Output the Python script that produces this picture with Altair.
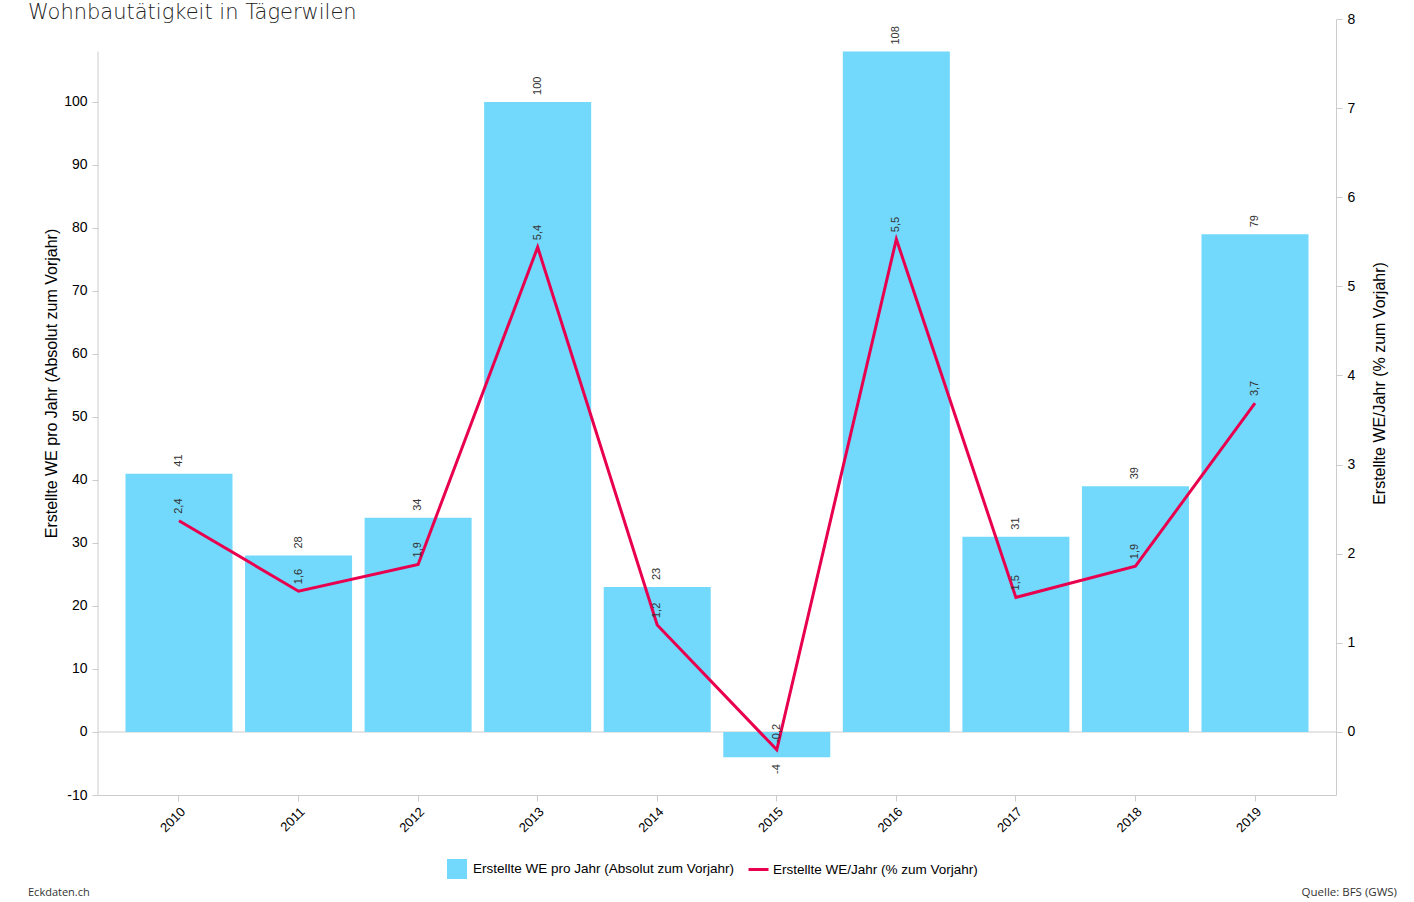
import altair as alt
import pandas as pd

years = ["2010", "2011", "2012", "2013", "2014", "2015", "2016", "2017", "2018", "2019"]
absolute = [41, 28, 34, 100, 23, -4, 108, 31, 39, 79]
percent = [2.37, 1.58, 1.88, 5.44, 1.2, -0.2, 5.53, 1.51, 1.86, 3.69]

BAR = "Erstellte WE pro Jahr (Absolut zum Vorjahr)"
LINE = "Erstellte WE/Jahr (% zum Vorjahr)"
TITLE = "Wohnbautätigkeit in Tägerwilen"
LEFT_TITLE = "Erstellte WE pro Jahr (Absolut zum Vorjahr)"
RIGHT_TITLE = "Erstellte WE/Jahr (% zum Vorjahr)"
FOOT_LEFT = "Eckdaten.ch"
FOOT_RIGHT = "Quelle: BFS (GWS)"

W, H = 1238, 776
BLUE = "#72d8fc"
RED = "#e8004f"
GRAY = "#cccccc"
AXFONT = "Liberation Sans"
TFONT = "Liberation Sans"
FIXMINUS = "replace(datum.label, '\u2212', '-')"

df = pd.DataFrame({"year": years, "abs": absolute, "pct": percent})
df["bar_series"] = BAR
df["line_series"] = LINE

base = alt.Chart(df)

x_enc = alt.X(
    "year:N",
    sort=years,
    scale=alt.Scale(paddingInner=0.105, paddingOuter=0.23),
    axis=alt.Axis(
        title=None, labelAngle=-45, labelFont=AXFONT, labelFontSize=13,
        labelColor="#000", domainColor=GRAY, tickColor=GRAY, tickSize=6,
        grid=False, labelPadding=4,
    ),
)

left_scale = alt.Scale(domain=[-10, 113.17], nice=False, zero=False)
left_axis = alt.Axis(
    title=LEFT_TITLE, values=list(range(-10, 101, 10)), domain=False, grid=False,
    tickSize=6, tickColor=GRAY, labelFont=AXFONT, labelFontSize=14, labelColor="#000",
    labelPadding=5, labelExpr=FIXMINUS, titleFont=TFONT, titleFontSize=16,
    titleFontWeight="normal", titleColor="#000", titlePadding=4, titleY=364,
)

right_scale = alt.Scale(domain=[-0.707, 8], nice=False, zero=False)
right_axis = alt.Axis(
    orient="right", title=RIGHT_TITLE, values=list(range(0, 9)), domain=True,
    domainColor=GRAY, grid=False, tickSize=6, tickColor=GRAY, labelFont=AXFONT,
    labelFontSize=14, labelColor="#000", labelPadding=5, titleFont=TFONT,
    titleFontSize=16, titleFontWeight="normal", titleColor="#000", titlePadding=17,
    titleY=364, titleAngle=270, titleBaseline="top",
)

one = pd.DataFrame({"a": [0]})

zero_rule = alt.Chart(one).mark_rule(color=GRAY, strokeWidth=1).encode(
    y=alt.Y(datum=0, scale=left_scale, axis=left_axis),
    x=alt.value(0), x2=alt.value(W),
)
left_domain = alt.Chart(one).mark_rule(color=GRAY, strokeWidth=1).encode(
    y=alt.Y(datum=-10, scale=left_scale, axis=left_axis),
    y2=alt.datum(108),
    x=alt.value(0),
)

bars = base.mark_bar().encode(
    x=x_enc,
    y=alt.Y("abs:Q", scale=left_scale, axis=left_axis),
    color=alt.Color(
        "bar_series:N",
        scale=alt.Scale(domain=[BAR], range=[BLUE]),
        legend=alt.Legend(
            orient="none", legendX=349, legendY=840, title=None, symbolType="square",
            symbolSize=400, symbolStrokeWidth=0, labelFont="Liberation Sans",
            labelFontSize=13.5, labelColor="#000", labelOffset=6, padding=0,
            labelLimit=0,
        ),
    ),
)

bar_text = base.transform_calculate(lbl="toString(datum.abs)")

bar_pos_labels = bar_text.transform_filter("datum.abs >= 0").mark_text(
    angle=270, align="left", baseline="middle", dx=7, fontSize=11,
    font="Liberation Sans", color="#333",
).encode(
    x=x_enc,
    y=alt.Y("abs:Q", scale=left_scale, axis=left_axis),
    text="lbl:N",
)
bar_neg_labels = bar_text.transform_filter("datum.abs < 0").mark_text(
    angle=270, align="right", baseline="middle", dx=-7, fontSize=11,
    font="Liberation Sans", color="#333",
).encode(
    x=x_enc,
    y=alt.Y("abs:Q", scale=left_scale, axis=left_axis),
    text="lbl:N",
)

left_layer = alt.layer(zero_rule, bars, left_domain, bar_pos_labels, bar_neg_labels)

line = base.mark_line(strokeWidth=3).encode(
    x=x_enc,
    y=alt.Y("pct:Q", scale=right_scale, axis=right_axis),
    stroke=alt.Stroke(
        "line_series:N",
        scale=alt.Scale(domain=[LINE], range=[RED]),
        legend=alt.Legend(
            orient="none", legendX=649, legendY=839, title=None, symbolType="stroke",
            symbolSize=400, symbolStrokeWidth=3, labelFont="Liberation Sans",
            labelFontSize=13.5, labelColor="#000", labelOffset=3, padding=0,
            labelLimit=0,
        ),
    ),
)
line_labels = base.transform_calculate(
    lbl="replace(format(datum.pct, '.1f'), '.', ',')"
).transform_calculate(
    lbl="replace(datum.lbl, '\u2212', '-')"
).mark_text(
    angle=270, align="left", baseline="middle", dx=7, fontSize=11,
    font="Liberation Sans", color="#333",
).encode(
    x=x_enc,
    y=alt.Y("pct:Q", scale=right_scale, axis=right_axis),
    text="lbl:N",
)

right_layer = alt.layer(line, line_labels)

title_txt = alt.Chart(pd.DataFrame({"t": [TITLE]})).mark_text(
    align="left", baseline="alphabetic", font="DejaVu Sans", fontSize=21,
    fontWeight=300, color="#222",
).encode(text="t:N", x=alt.value(28 - 98), y=alt.value(0))

foot_l = alt.Chart(pd.DataFrame({"t": [FOOT_LEFT]})).mark_text(
    align="left", baseline="alphabetic", font="Open Sans", fontSize=11, color="#333",
).encode(text="t:N", x=alt.value(28 - 98), y=alt.value(896 - 19))

foot_r = alt.Chart(pd.DataFrame({"t": [FOOT_RIGHT]})).mark_text(
    align="right", baseline="alphabetic", font="Open Sans", fontSize=11.5, color="#333",
).encode(text="t:N", x=alt.value(1397 - 98), y=alt.value(896 - 19))

chart = alt.layer(left_layer, right_layer, title_txt, foot_l, foot_r).resolve_scale(
    y="independent", color="independent", stroke="independent"
).properties(
    width=W, height=H,
    autosize=alt.AutoSizeParams(type="none"),
    padding={"left": 98, "top": 19, "right": 1414 - 98 - W, "bottom": 902 - 19 - H},
    background="white",
).configure_view(stroke=None)

chart.save("out.html", embed_options={"renderer": "svg", "actions": False})
